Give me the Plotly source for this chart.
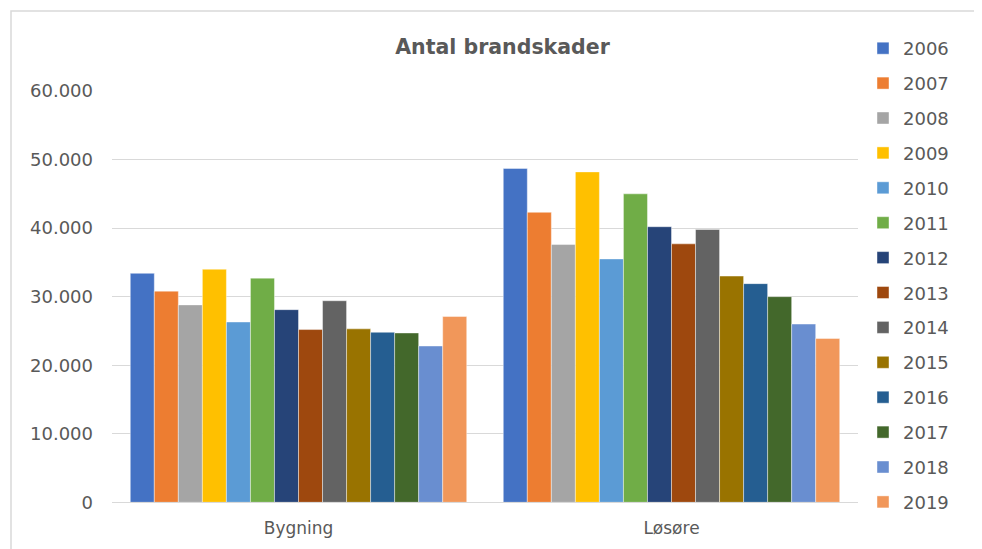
import plotly.graph_objects as go

categories = ["Bygning", "Løsøre"]
years = ["2006", "2007", "2008", "2009", "2010", "2011", "2012",
         "2013", "2014", "2015", "2016", "2017", "2018", "2019"]

bygning = [33400, 30800, 28800, 34000, 26300, 32700, 28100,
           25200, 29400, 25300, 24800, 24700, 22800, 27100]
losore = [48700, 42300, 37600, 48200, 35500, 45000, 40200,
          37700, 39800, 33000, 31900, 30000, 26000, 23900]

colors = ["#4472C4", "#ED7D31", "#A5A5A5", "#FFC000", "#5B9BD5", "#70AD47", "#264478",
          "#9E480E", "#636363", "#997300", "#255E91", "#43682B", "#698ED0", "#F1975A"]

fig = go.Figure()
for i, year in enumerate(years):
    fig.add_trace(go.Bar(
        name=year,
        x=categories,
        y=[bygning[i], losore[i]],
        marker=dict(color=colors[i], line=dict(color="rgba(255,255,255,0.6)", width=0.7)),
        legendgroup=year,
    ))

# page has an 8px body margin, so the figure is 974x541
W, H = 974, 541
L, R = 104, 124
pw = W - L - R
# plot area spans the full height so the tall legend fits; the y axis uses a domain
y_top, y_bot = 83, 494.3

fig.update_layout(
    width=W,
    height=H,
    margin=dict(l=L, r=R, t=0, b=0, pad=0, autoexpand=False),
    paper_bgcolor="white",
    plot_bgcolor="white",
    barmode="group",
    bargap=0.098,
    bargroupgap=0,
    separators=",.",
    font=dict(family="DejaVu Sans, Verdana, sans-serif", color="#595959"),
    title=dict(
        text="<b>Antal brandskader</b>",
        x=(494.5 - L) / pw, xref="paper", xanchor="center",
        y=1 - 39 / H, yref="container", yanchor="middle",
        font=dict(size=20.5, color="#595959"),
    ),
    xaxis=dict(
        showline=True, linecolor="#D9D9D9", linewidth=1,
        ticks="", tickfont=dict(size=17, color="#595959"),
        showgrid=False, ticklabelstandoff=10,
    ),
    yaxis=dict(
        domain=[1 - y_bot / H, 1 - y_top / H],
        range=[0, 60000], dtick=10000, tickformat=",d",
        showgrid=True, gridcolor="#D9D9D9", gridwidth=1,
        zeroline=False, showline=False, ticks="",
        tickfont=dict(size=18, color="#595959"),
        ticklabelstandoff=18,
    ),
    legend=dict(
        x=(855 - L) / pw, xanchor="left",
        y=1 - 22 / H, yanchor="top",
        font=dict(size=18, color="#595959"),
        tracegroupgap=8.5,
        bgcolor="rgba(0,0,0,0)",
        borderwidth=0,
    ),
    showlegend=True,
)

# light frame of the chart area (only the left and top edges are in view)
fig.add_shape(
    type="rect", xref="paper", yref="paper",
    x0=(3 - L) / pw, x1=(1100 - L) / pw,
    y0=-1, y1=1 - 3 / H,
    line=dict(color="#D9D9D9", width=1.5),
    fillcolor="rgba(0,0,0,0)", layer="below",
)

fig.write_html("out.html")
